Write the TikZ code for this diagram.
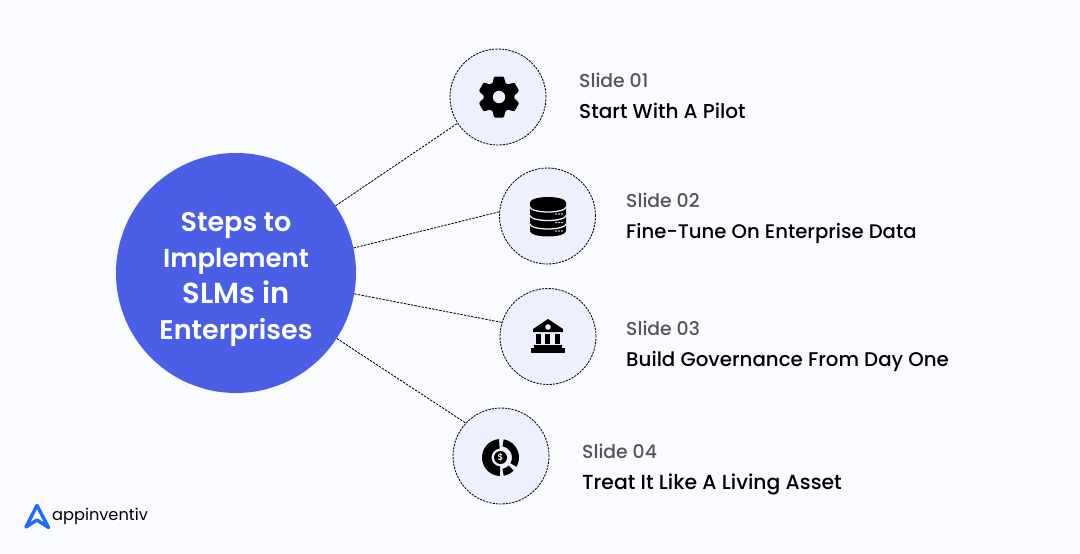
\documentclass[tikz,border=0pt]{standalone}
\usepackage{fontspec}
\setmainfont{Poppins}[UprightFont=* Medium,BoldFont=* SemiBold]
\newfontfamily\regfont{Poppins}
\definecolor{bgc}{HTML}{F9FBFF}
\definecolor{mainblue}{HTML}{4A5FE6}
\definecolor{pale}{HTML}{EEF0FD}
\definecolor{greytxt}{HTML}{555555}
\definecolor{logoblue}{HTML}{1F6BFF}
\newcommand{\fsz}[1]{\fontsize{#1}{36}\selectfont}
\tikzset{
  hub/.style={circle,fill=mainblue,minimum size=240pt,inner sep=0pt,text=white,align=center},
  stepc/.style={circle,draw=black,fill=pale,dash pattern=on 2.2pt off 1.1pt,line width=.85pt,minimum size=96pt,inner sep=0pt},
  link/.style={draw=black,line width=.85pt,dash pattern=on 2.4pt off 1.2pt},
  slidelab/.style={anchor=base west,inner sep=0pt,text=greytxt,font=\fontsize{18.8}{20}\selectfont},
  titlelab/.style={anchor=base west,inner sep=0pt,text=black},
  ic/.style={fill=black,draw=none},
  icgap/.style={fill=pale,draw=none},
  icline/.style={draw=pale,line width=1.3pt},
}
\begin{document}
\begin{tikzpicture}[x=1pt,y=-1pt]
\useasboundingbox (0,0) rectangle (1080,554);
\fill[bgc] (0,0) rectangle (1080,554);
\node[hub] (hub) at (236,273) {};
\node[stepc] (s1) at (498,97) {};
\node[stepc] (s2) at (547.5,216) {};
\node[stepc] (s3) at (548,336.5) {};
\node[stepc] (s4) at (501,456) {};
\draw[link] (hub.34) -- (s1.213);
\draw[link] (hub.12) -- (s2.175);
\draw[link] (hub.-10.5) -- (s3.163);
\draw[link] (hub.-33) -- (s4.137.5);
\node[anchor=center,inner sep=0pt,text=white,align=center,font=\fsz{27}\bfseries] (hubt) at (236,280) {Steps to\\\fsz{26}Implement\\\fsz{29}SLMs in\\\fsz{27}Enterprises};
\node[slidelab] (l1) at (579,87) {Slide 01};
\node[titlelab,font=\fontsize{20.05}{22}\selectfont] (t1) at (579,118) {Start With A Pilot};
\node[slidelab] (l2) at (626,207) {Slide 02};
\node[titlelab,font=\fontsize{19.65}{22}\selectfont] (t2) at (626,238) {Fine-Tune On Enterprise Data};
\node[slidelab] (l3) at (626,335) {Slide 03};
\node[titlelab,font=\fontsize{19.8}{22}\selectfont] (t3) at (626,366) {Build Governance From Day One};
\node[slidelab] (l4) at (582,458) {Slide 04};
\node[titlelab,font=\fontsize{20.35}{22}\selectfont] (t4) at (582,489) {Treat It Like A Living Asset};
% gear
\begin{scope}[shift={(499,97)},x=1pt,y=1pt]
  \fill[ic] (0,0) circle (15.5);
  \foreach \a in {90,30,-30,-90,150,210}
    \fill[ic,rotate=\a,rounded corners=1pt] (12,-7) -- (20.5,-4.8) -- (20.5,4.8) -- (12,7) -- cycle;
  \fill[icgap] (0,0) circle (6.2);
\end{scope}
% database
\begin{scope}[shift={(548,217)},x=1pt,y=1pt]
  \fill[ic] (-18,-14) -- (-18,14.5) arc (180:0:18 and 5.5) -- (18,-14) arc (0:-180:18 and 5.5) -- cycle;
  \draw[icline] (-18,10) arc (180:360:18 and 5);
  \draw[icline] (-18,1.5) arc (180:360:18 and 5);
  \draw[icline] (-18,-7) arc (180:360:18 and 5);
  \foreach \y in {3,-5.5,-14}
    \foreach \x in {8,11,14}
      \fill[pale] (\x,\y) circle (.8);
\end{scope}
% bank
\begin{scope}[shift={(548,336)},x=1pt,y=1pt]
  \fill[ic] (-15,4) -- (-15,7) -- (0,17) -- (15,7) -- (15,4) -- cycle;
  \fill[icgap] (0,9) circle (2.8);
  \fill[ic] (-12.5,2) rectangle (-7.5,-8);
  \fill[ic] (-3,2) rectangle (2,-8);
  \fill[ic] (7,2) rectangle (12,-8);
  \fill[ic] (-14,-12) rectangle (14,-8.5);
  \fill[ic] (-17,-17) rectangle (17,-12);
\end{scope}
% donut
\begin{scope}[shift={(500.5,457.5)},x=1pt,y=1pt]
  \fill[ic] (95:18.5) arc (95:268:18.5) -- (268:9) arc (268:95:9) -- cycle;
  \fill[ic] (80:18.5) arc (80:-30:18.5) -- (-30:11.5) arc (-30:80:11.5) -- cycle;
  \fill[ic] (-45:18.5) arc (-45:-80:18.5) -- (-80:11.5) arc (-80:-45:11.5) -- cycle;
  \fill[ic] (0,0) circle (6.5);
  \node[inner sep=0pt,text=white,font=\fontsize{9}{9}\selectfont] (dollar) at (0,0) {\$};
\end{scope}
% logo
\draw[logoblue,line width=3.4pt,line join=round] (26,527) -- (37,505.5) -- (48.5,527.5) -- (37,520) -- cycle;
\node[anchor=base west,inner sep=0pt,font=\fontsize{16.2}{20}\selectfont\regfont] (logo) at (52,520.5) {appinventiv};
\end{tikzpicture}
\end{document}
